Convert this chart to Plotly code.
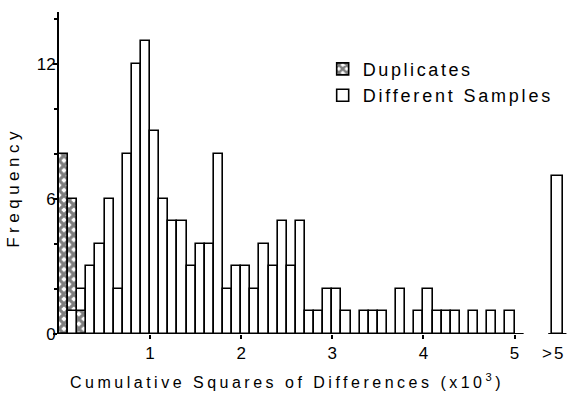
import plotly.graph_objects as go

# ---- data ----
BIN_LEFT = [i / 10 for i in range(50)]          # 0.0 .. 4.9 (x10^3), bin width 0.1
DIFFERENT = [0, 1, 2, 3, 4, 6, 2, 8, 12, 13,
             9, 6, 5, 5, 3, 4, 4, 8, 2, 3,
             3, 2, 4, 3, 5, 3, 5, 1, 1, 2,
             2, 1, 0, 1, 1, 1, 0, 2, 0, 1,
             2, 1, 1, 1, 0, 1, 0, 1, 0, 1]
DUPLICATES = [8, 6, 1]                           # first three bins
OVER_LABEL = ">5"
OVER_COUNT = 7
X_TICKS = [1, 2, 3, 4, 5]
X_TICK_TEXT = ["1", "2", "3", "4", "5"]
X_TITLE = "Cumulative Squares of Differences (x10<sup>3</sup>)"
Y_TITLE = "Frequency"

BIN_W = 0.1
OVER_X = 5.47
FONT = "Liberation Sans, Arial, sans-serif"


def spaced(txt, px):
    return f'<span style="letter-spacing:{px}px">{txt}</span>'


centers = [b + BIN_W / 2 for b in BIN_LEFT]
dup_centers = centers[:len(DUPLICATES)]

line = dict(color="black", width=1.6)

fig = go.Figure()
# Different samples (back layer)
fig.add_trace(go.Bar(
    x=centers, y=DIFFERENT, width=BIN_W, name=spaced("Different Samples", 2.8),
    marker=dict(color="white", line=line), legendrank=2))
# Duplicates (cross-hatched)
fig.add_trace(go.Bar(
    x=dup_centers, y=DUPLICATES, width=BIN_W, name=spaced("Duplicates", 2.6),
    marker=dict(color="white", line=line,
                pattern=dict(shape="x", fgcolor="black", bgcolor="white",
                             size=7, solidity=0.7)),
    legendrank=1))
# where a different-samples bar is shorter than the duplicates bar, draw it in front
front = [d if d < p else 0 for d, p in zip(DIFFERENT[:len(DUPLICATES)], DUPLICATES)]
fig.add_trace(go.Bar(
    x=dup_centers, y=front, width=BIN_W, showlegend=False,
    marker=dict(color="white", line=line)))
# >5 bar
fig.add_trace(go.Bar(
    x=[OVER_X], y=[OVER_COUNT], width=BIN_W * 1.15, showlegend=False,
    marker=dict(color="white", line=line)))

fig.add_shape(type="line", xref="x", yref="y", x0=0, x1=5.1, y0=0, y1=0,
              line=dict(color="black", width=2))
fig.add_shape(type="line", xref="x", yref="y", x0=OVER_X - 0.1, x1=OVER_X + 0.1,
              y0=0, y1=0, line=dict(color="black", width=2))
fig.add_annotation(x=OVER_X - 0.04, y=0, yref="y", xref="x", text=spaced(OVER_LABEL, 2),
                   showarrow=False, yanchor="top", yshift=-8,
                   font=dict(family=FONT, size=17, color="black"))
# axis titles
fig.add_annotation(x=0.445, y=-0.146, xref="paper", yref="paper",
                   text=spaced(X_TITLE, 3.5), showarrow=False,
                   xanchor="center", yanchor="middle",
                   font=dict(family=FONT, size=16, color="black"))
fig.add_annotation(x=-0.088, y=0.457, xref="paper", yref="paper",
                   text=spaced(Y_TITLE, 4.5), showarrow=False, textangle=-90,
                   xanchor="center", yanchor="middle",
                   font=dict(family=FONT, size=17, color="black"))

fig.update_layout(
    width=571, height=393,
    margin=dict(l=59, r=0, t=12, b=59),
    paper_bgcolor="white", plot_bgcolor="white",
    barmode="overlay", bargap=0,
    font=dict(family=FONT, size=17, color="black"),
    legend=dict(x=0.515, y=0.88, xanchor="left", yanchor="top",
                bgcolor="rgba(0,0,0,0)", font=dict(size=18)),
    xaxis=dict(range=[0, 5.62], showline=False, showgrid=False, zeroline=False,
               tickvals=X_TICKS, ticktext=X_TICK_TEXT, ticks="outside",
               ticklen=4, tickwidth=2, tickcolor="black"),
    yaxis=dict(range=[0, 14.3], showline=True, linewidth=2, linecolor="black",
               showgrid=False, zeroline=False, tick0=0, dtick=6,
               ticks="outside", ticklen=4, tickwidth=2, tickcolor="black",
               ticklabelstandoff=-6,
               minor=dict(dtick=2, ticks="outside", ticklen=3, tickwidth=1.5,
                          tickcolor="black")),
)

fig.write_html("out.html", config={"displayModeBar": False},
               post_script="document.body.style.margin='0px';document.body.style.overflow='hidden';")
